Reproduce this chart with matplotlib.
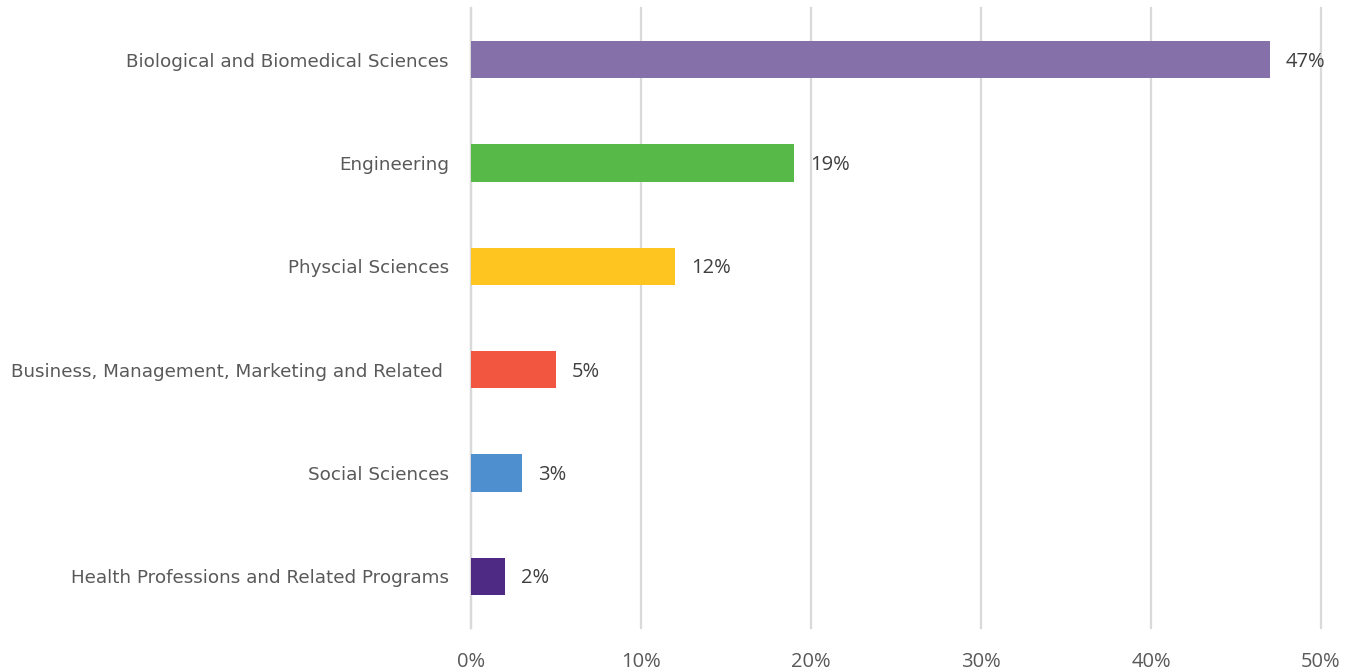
import matplotlib
matplotlib.use("Agg")
import matplotlib.pyplot as plt
from matplotlib.ticker import FuncFormatter

categories = [
    "Biological and Biomedical Sciences",
    "Engineering",
    "Physcial Sciences",
    "Business, Management, Marketing and Related ",
    "Social Sciences",
    "Health Professions and Related Programs",
]
shares = [47, 19, 12, 5, 3, 2]
colors = ["#8570AA", "#57B947", "#FEC520", "#F25640", "#4E8FCF", "#4E2A84"]
x_ticks = [0, 10, 20, 30, 40, 50]

fig = plt.figure(figsize=(13.57, 6.71), dpi=100)
ax = fig.add_axes([471 / 1357, 1 - 628 / 671, 850 / 1357, 620 / 671])

ypos = list(range(len(categories)))
ax.barh(ypos, shares, height=0.36, color=colors, zorder=3)

ax.set_xlim(0, 50)
ax.set_ylim(len(categories) - 0.5, -0.5)
ax.set_xticks(x_ticks)
ax.xaxis.set_major_formatter(FuncFormatter(lambda v, _: f"{v:.0f}%"))
ax.set_yticks(ypos)
ax.set_yticklabels(categories, fontfamily="DejaVu Sans",
                   fontsize=13.2, color="#595959")

for y, v in zip(ypos, shares):
    ax.annotate(f"{v}%", xy=(v, y), xytext=(11.5, -1.5), textcoords="offset points",
                va="center", ha="left", fontsize=14.5, color="#404040",
                fontfamily="Open Sans")

ax.grid(axis="x", color="#D9D9D9", linewidth=1.6, zorder=0)
for line in ax.get_xgridlines():
    line.set_clip_on(False)
for s in ["top", "right", "bottom"]:
    ax.spines[s].set_visible(False)
ax.spines["left"].set_color("#D9D9D9")
ax.spines["left"].set_linewidth(1.6)
ax.tick_params(axis="both", length=0)
ax.tick_params(axis="y", pad=16)
ax.tick_params(axis="x", pad=17, labelsize=14.5, labelcolor="#595959")
for lbl in ax.get_xticklabels():
    lbl.set_fontfamily("Open Sans")

fig.savefig("out.png", dpi=100, facecolor="white")
